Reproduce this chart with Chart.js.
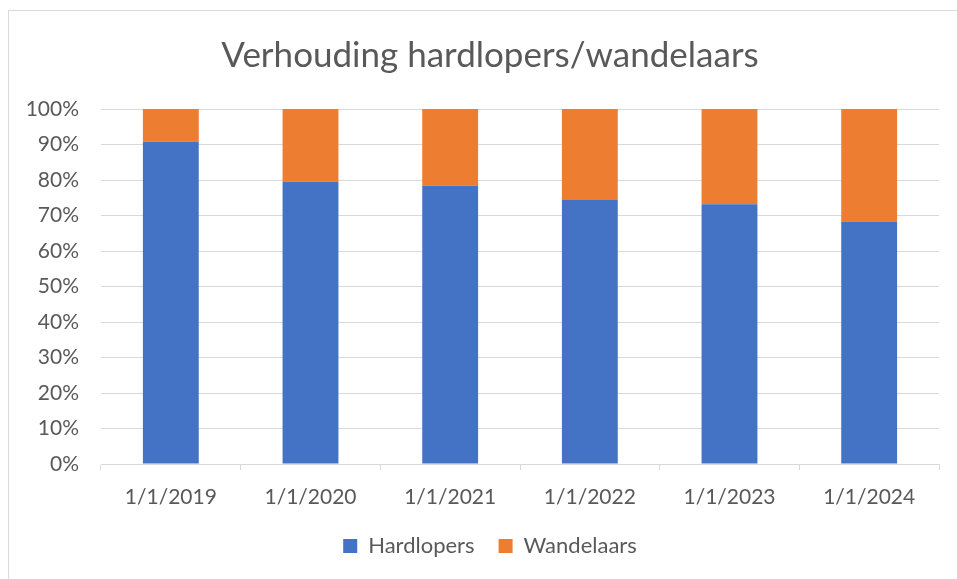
<!DOCTYPE html>
<html>
<head>
<meta charset="utf-8">
<script src="https://cdn.jsdelivr.net/npm/chart.js@4"></script>
<style>
  html, body { margin: 0; padding: 0; background: #fff; }
  #wrap { position: relative; width: 957px; height: 579px; overflow: hidden; }
  #frame { position: absolute; left: 8px; top: 10px; width: 1000px; height: 1000px; border: 1px solid #d9d9d9; box-sizing: border-box; }
  canvas { position: absolute; left: 0; top: 0; }
</style>
</head>
<body>
<div id="wrap">
  <div id="frame"></div>
  <canvas id="chart" width="957" height="579"></canvas>
</div>
<script>
// data (share in %)
const categories = ['1/1/2019', '1/1/2020', '1/1/2021', '1/1/2022', '1/1/2023', '1/1/2024'];
const hardlopers = [90.8, 79.5, 78.4, 74.4, 73.2, 68.3];
const wandelaars = [9.2, 20.5, 21.6, 25.6, 26.8, 31.7];
const yTicks = [0, 10, 20, 30, 40, 50, 60, 70, 80, 90, 100];

const textColor = '#595959';
const gridColor = '#d9d9d9';
const fontFamily = 'Lato, "Noto Sans", sans-serif';

new Chart(document.getElementById('chart'), {
  type: 'bar',
  data: {
    labels: categories,
    datasets: [
      { label: 'Hardlopers', data: hardlopers, backgroundColor: '#4472C4', barPercentage: 0.4, categoryPercentage: 1 },
      { label: 'Wandelaars', data: wandelaars, backgroundColor: '#ED7D31', barPercentage: 0.4, categoryPercentage: 1 }
    ]
  },
  options: {
    responsive: false,
    animation: false,
    // the Excel chart area runs past the right edge, so title + legend sit right of centre
    layout: { padding: { left: 0, right: -23, top: 0, bottom: 12 } },
    plugins: {
      title: {
        display: true,
        text: 'Verhouding hardlopers/wandelaars',
        color: textColor,
        font: { family: fontFamily, size: 35, weight: 'normal' },
        padding: { top: 35, bottom: 32 }
      },
      legend: {
        position: 'bottom',
        labels: {
          color: textColor,
          font: { family: fontFamily, size: 22 },
          boxWidth: 14,
          boxHeight: 14,
          padding: 24
        }
      },
      tooltip: { enabled: false }
    },
    scales: {
      x: {
        stacked: true,
        offset: true,
        grid: { display: true, drawOnChartArea: false, color: gridColor, tickLength: 6, offset: true },
        border: { color: gridColor, width: 1 },
        ticks: { color: textColor, font: { family: fontFamily, size: 21 }, padding: 15, maxRotation: 0 },
        afterFit: s => { s.height = 47; }
      },
      y: {
        stacked: true,
        min: 0,
        max: 100,
        afterBuildTicks: s => { s.ticks = yTicks.map(v => ({ value: v })); },
        grid: { color: gridColor, lineWidth: 1, drawTicks: false },
        border: { display: false },
        ticks: { color: textColor, font: { family: fontFamily, size: 21 }, padding: 22, callback: v => v + '%' },
        afterFit: s => { s.width = 101; }
      },
      // empty spacer on the right so the plot ends at the same place
      spacer: {
        type: 'linear',
        position: 'right',
        display: true,
        grid: { display: false },
        border: { display: false },
        ticks: { display: false },
        afterFit: s => { s.width = 41; }
      }
    }
  }
});
</script>
</body>
</html>
